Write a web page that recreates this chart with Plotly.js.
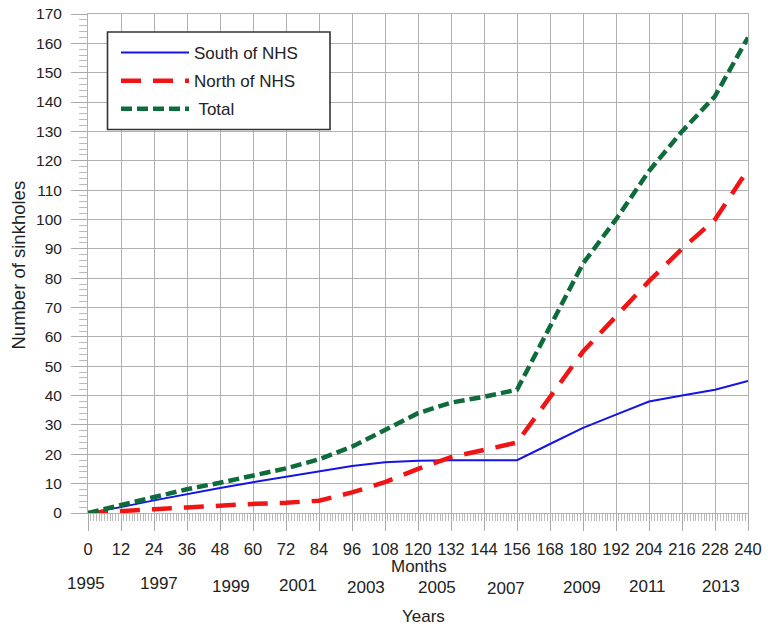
<!DOCTYPE html>
<html>
<head>
<meta charset="utf-8">
<script src="https://cdn.plot.ly/plotly-3.0.1.min.js"></script>
<style>html,body{margin:0;padding:0;background:#fff;}#chart{width:768px;height:626px;}</style>
</head>
<body>
<div id="chart"></div>
<script>
// ---- data ----
const months = [0,12,24,36,48,60,72,84,96,108,120,132,144,156,168,180,192,204,216,228,240];
const southOfNHS = [0,2,4.3,6.5,8.5,10.5,12.3,14.3,16,17.3,17.8,18,18,18,23.5,29,33.5,38,40,42,45];
const northOfNHS = [0,0.8,1.3,1.9,2.6,3.1,3.5,4.2,7,10.5,15,19,21.5,24,39.5,55,67,79,90,100,117];
const total      = [0,2.7,5.6,8.1,10.3,12.9,15.2,18.3,22.6,28.3,34,37.6,39.6,42,63.5,85,100,116.5,130,142,162];
const seriesNames = ["South of NHS", "North of NHS", " Total"];
const yearLabels = ["1995","1997","1999","2001","2003","2005","2007","2009","2011","2013"];

// ---- layout helpers (pixel positions of the year row) ----
const yearXPx = [86,159,231,297.5,365.5,437,506,581.7,647.5,721];
const yearYPx = [583,583,586,585,587,587,588,587,586,586];
const plotLeft = 88, plotW = 660, plotTop = 14, plotBottom = 513, plotH = plotBottom - plotTop;
const px = p => (p - plotLeft) / plotW;
const py = p => (plotBottom - p) / plotH;

const FONT = "Liberation Sans, Arial, sans-serif";
const TXT = "#222";

const traces = [
  {x: months, y: southOfNHS, name: seriesNames[0], mode: "lines", legendgroup: "a",
   line: {color: "#1414e6", width: 2}},
  {x: months, y: northOfNHS, name: seriesNames[1], mode: "lines", legendgroup: "b",
   line: {color: "#f01414", width: 4.5, dash: "20px,12px"}},
  {x: months, y: total, name: seriesNames[2], mode: "lines", legendgroup: "c",
   line: {color: "#0e6b3a", width: 4.5, dash: "11px,5px"}}
];

const annotations = yearLabels.map((t, i) => ({
  text: t, xref: "paper", yref: "paper", x: px(yearXPx[i]), y: py(yearYPx[i]),
  xanchor: "center", yanchor: "middle", showarrow: false,
  font: {family: FONT, size: 17, color: TXT}
}));
annotations.push({text: "Months", xref: "paper", yref: "paper", x: px(419), y: py(566),
  xanchor: "center", yanchor: "middle", showarrow: false, font: {family: FONT, size: 17, color: TXT}});
annotations.push({text: "Years", xref: "paper", yref: "paper", x: px(423), y: py(616),
  xanchor: "center", yanchor: "middle", showarrow: false, font: {family: FONT, size: 17, color: TXT}});
annotations.push({text: "Number of sinkholes", xref: "paper", yref: "paper", x: px(17.5), y: py(265),
  xanchor: "center", yanchor: "middle", textangle: -90, showarrow: false,
  font: {family: FONT, size: 18.5, color: TXT}});

const layout = {
  width: 768, height: 626,
  margin: {l: 88, r: 20, t: 14, b: 113, pad: 0},
  paper_bgcolor: "#fff", plot_bgcolor: "#fff",
  font: {family: FONT, color: TXT},
  showlegend: true,
  legend: {x: px(116), y: py(35), xanchor: "left", yanchor: "top",
    bgcolor: "rgba(0,0,0,0)", borderwidth: 0,
    font: {family: FONT, size: 17, color: TXT}, itemwidth: 68, tracegroupgap: 3},
  shapes: [{type: "rect", xref: "paper", yref: "paper", layer: "above",
    x0: px(107.5), x1: px(330), y0: py(32), y1: py(129.5),
    fillcolor: "#fff", line: {color: "#333", width: 1.6}}],
  xaxis: {range: [0, 240], tick0: 0, dtick: 12, showgrid: true, gridcolor: "#b0b0b0", gridwidth: 1,
    zeroline: false, showline: true, linecolor: "#b0b0b0", linewidth: 1, mirror: true,
    ticks: "outside", ticklen: 17, tickcolor: "#aaa", tickwidth: 1,
    minor: {dtick: 1, ticks: "outside", ticklen: 7, tickcolor: "#bbb", tickwidth: 1, showgrid: false},
    tickfont: {family: FONT, size: 16.5, color: TXT}, ticklabelstandoff: 4, fixedrange: true},
  yaxis: {range: [0, 170], tick0: 0, dtick: 10, showgrid: true, gridcolor: "#b0b0b0", gridwidth: 1,
    zeroline: false, showline: true, linecolor: "#b0b0b0", linewidth: 1, mirror: true,
    ticks: "outside", ticklen: 16, tickcolor: "#aaa", tickwidth: 1,
    minor: {dtick: 2, ticks: "outside", ticklen: 8, tickcolor: "#bbb", tickwidth: 1, showgrid: false},
    tickfont: {family: FONT, size: 15.5, color: TXT}, ticklabelstandoff: 6, fixedrange: true},
  annotations: annotations
};

Plotly.newPlot("chart", traces, layout, {displayModeBar: false, staticPlot: true});
</script>
</body>
</html>
